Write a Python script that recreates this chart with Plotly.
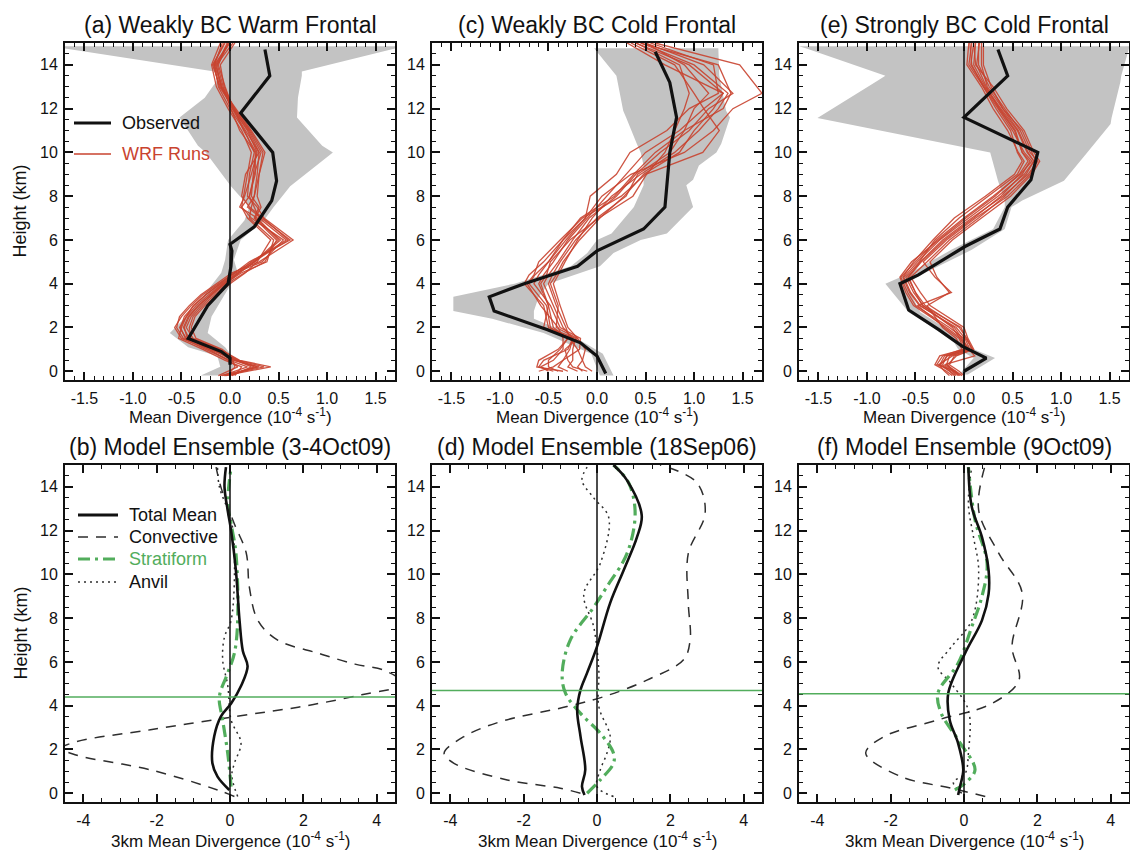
import plotly.graph_objects as go

W, H = 1130, 850
FONT = "Liberation Sans, Arial, Helvetica, sans-serif"
INK = "#111111"
RED = "#c9432f"
GREEN = "#52ad5c"
SHADE = "#c3c3c3"
DASHGRAY = "#2e2e2e"

# ---------------- tick labels ----------------
top_xticks = [-1.5, -1.0, -0.5, 0.0, 0.5, 1.0, 1.5]
top_xlabels = ["-1.5", "-1.0", "-0.5", "0.0", "0.5", "1.0", "1.5"]
bot_xticks = [-4, -2, 0, 2, 4]
bot_xlabels = ["-4", "-2", "0", "2", "4"]
yticks = [0, 2, 4, 6, 8, 10, 12, 14]
ylabels = ["0", "2", "4", "6", "8", "10", "12", "14"]

titles = ["(a) Weakly BC Warm Frontal", "(c) Weakly BC Cold Frontal",
          "(e) Strongly BC Cold Frontal", "(b) Model Ensemble (3-4Oct09)",
          "(d) Model Ensemble (18Sep06)", "(f) Model Ensemble (9Oct09)"]

# ---------------- (a) weakly baroclinic warm frontal ----------------
obs_a_h = [0.3, 0.6, 0.9, 1.5, 3.0, 4.0, 4.8, 5.5, 5.8, 6.6, 7.8, 8.7, 10.0, 11.8, 13.5, 14.7]
obs_a = [0.0, 0.0, -0.09, -0.43, -0.23, -0.02, 0.01, 0.02, 0.00, 0.25, 0.43, 0.48, 0.44, 0.11, 0.41, 0.36]
band_a_h = [-0.2, 0.2, 0.7, 1.1, 1.75, 2.5, 3.3, 4.5, 5.1, 6.0, 6.9, 7.5, 8.45, 10.0, 10.3, 11.6, 12.5, 13.5, 13.7, 14.75, 14.85]
band_a_lo = [-0.30, -0.10, -0.13, -0.43, -0.62, -0.45, -0.30, -0.09, -0.05, -0.02, 0.15, 0.20, 0.01, -0.25, -0.33, -0.52, -0.26, -0.10, -0.16, -1.70, -1.70]
band_a_hi = [-0.02, 0.04, 0.02, -0.05, -0.23, -0.19, -0.08, 0.08, 0.04, 0.11, 0.35, 0.45, 0.62, 1.06, 0.95, 0.69, 0.70, 0.74, 0.74, 1.70, 1.70]
wrf_a_h = [-0.2, 0.2, 0.5, 1.0, 1.5, 2.0, 2.5, 3.0, 3.5, 4.0, 4.5, 5.0, 6.0, 7.0, 7.5, 8.0, 9.0, 10.0, 11.0, 12.0, 13.0, 14.0, 15.0]
wrf_a_runs = [
    [-0.05, 0.42, 0.10, -0.10, -0.38, -0.45, -0.40, -0.30, -0.18, -0.05, 0.10, 0.25, 0.50, 0.28, 0.10, 0.15, 0.22, 0.28, 0.18, 0.03, -0.05, -0.12, -0.02],
    [-0.10, 0.30, 0.05, -0.15, -0.45, -0.52, -0.45, -0.35, -0.22, -0.08, 0.08, 0.22, 0.58, 0.30, 0.25, 0.20, 0.25, 0.32, 0.20, 0.05, -0.08, -0.15, 0.00],
    [0.00, 0.25, 0.08, -0.20, -0.50, -0.57, -0.50, -0.40, -0.28, -0.12, 0.05, 0.20, 0.62, 0.32, 0.18, 0.25, 0.30, 0.36, 0.22, 0.06, -0.10, -0.18, -0.05],
    [-0.08, 0.18, 0.00, -0.25, -0.48, -0.55, -0.52, -0.42, -0.30, -0.14, 0.02, 0.30, 0.65, 0.35, 0.28, 0.18, 0.20, 0.25, 0.15, 0.00, -0.12, -0.16, -0.08],
    [0.05, 0.12, -0.05, -0.28, -0.53, -0.50, -0.45, -0.38, -0.25, -0.10, 0.06, 0.33, 0.55, 0.22, 0.12, 0.14, 0.18, 0.22, 0.12, -0.02, -0.14, -0.19, -0.10],
    [-0.12, 0.08, -0.02, -0.22, -0.42, -0.48, -0.43, -0.33, -0.20, -0.06, 0.12, 0.38, 0.45, 0.20, 0.22, 0.25, 0.28, 0.30, 0.16, 0.02, -0.09, -0.14, 0.03],
    [-0.03, 0.05, 0.03, -0.18, -0.40, -0.42, -0.38, -0.28, -0.15, -0.03, 0.15, 0.36, 0.48, 0.25, 0.30, 0.22, 0.24, 0.27, 0.14, 0.04, -0.06, -0.10, 0.05],
    [0.02, 0.22, 0.06, -0.08, -0.35, -0.40, -0.36, -0.26, -0.13, 0.00, 0.16, 0.28, 0.42, 0.18, 0.12, 0.20, 0.26, 0.26, 0.10, 0.01, -0.07, -0.13, -0.03],
    [-0.06, 0.35, 0.09, -0.12, -0.44, -0.47, -0.42, -0.32, -0.20, -0.07, 0.09, 0.26, 0.52, 0.26, 0.32, 0.28, 0.30, 0.34, 0.21, 0.04, -0.11, -0.17, -0.06],
    [-0.04, 0.28, 0.04, -0.16, -0.46, -0.51, -0.47, -0.37, -0.25, -0.10, 0.04, 0.24, 0.60, 0.34, 0.20, 0.12, 0.16, 0.30, 0.19, 0.03, -0.09, -0.16, -0.01],
]

# ---------------- (c) weakly baroclinic cold frontal ----------------
obs_c_h = [-0.1, 0.7, 1.3, 1.9, 2.75, 3.4, 4.0, 4.8, 5.5, 6.5, 7.5, 10.0, 11.6, 13.2, 14.6]
obs_c = [0.09, 0.0, -0.17, -0.51, -1.06, -1.11, -0.75, -0.20, 0.0, 0.48, 0.70, 0.75, 0.82, 0.75, 0.60]
band_c_h = [-0.2, 0.8, 1.75, 2.4, 2.75, 3.4, 4.0, 4.8, 5.4, 6.0, 6.3, 7.5, 8.5, 8.75, 9.4, 10.0, 10.4, 11.6, 11.9, 13.5, 14.76]
band_c_lo = [0.03, -0.06, -0.55, -1.08, -1.48, -1.48, -0.85, -0.27, -0.10, 0.00, 0.15, 0.38, 0.48, 0.48, 0.48, 0.45, 0.41, 0.30, 0.27, 0.20, -0.03]
band_c_hi = [0.17, 0.06, -0.30, -0.65, -0.65, -0.60, -0.50, 0.03, 0.17, 0.45, 0.72, 0.99, 0.92, 0.99, 1.05, 1.23, 1.28, 1.37, 1.33, 1.26, 1.25]
wrf_c_h = [0.0, 0.2, 0.5, 1.0, 1.5, 2.0, 3.0, 4.0, 4.4, 5.0, 6.0, 7.0, 8.0, 9.0, 10.0, 11.0, 12.0, 12.7, 14.0, 15.0]
wrf_c_runs = [
    [-0.05, -0.12, -0.15, -0.12, -0.20, -0.30, -0.38, -0.45, -0.40, -0.33, -0.20, -0.05, 0.15, 0.45, 0.80, 1.05, 1.25, 1.35, 1.00, 0.45],
    [-0.45, -0.60, -0.55, -0.30, -0.25, -0.35, -0.45, -0.55, -0.50, -0.40, -0.25, -0.08, 0.20, 0.40, 0.65, 0.95, 1.15, 1.40, 1.10, 0.50],
    [-0.35, -0.62, -0.60, -0.40, -0.30, -0.45, -0.50, -0.60, -0.55, -0.45, -0.30, -0.10, 0.10, 0.30, 0.50, 0.85, 1.10, 1.30, 0.95, 0.40],
    [-0.20, -0.30, -0.25, -0.25, -0.22, -0.50, -0.55, -0.75, -0.70, -0.55, -0.35, -0.12, 0.05, 0.35, 0.90, 1.20, 1.40, 1.70, 1.47, 0.60],
    [-0.50, -0.58, -0.45, -0.35, -0.35, -0.40, -0.58, -0.72, -0.65, -0.60, -0.38, -0.15, 0.25, 0.50, 1.09, 1.26, 1.10, 1.00, 0.80, 0.35],
    [-0.15, -0.20, -0.15, -0.20, -0.28, -0.32, -0.42, -0.50, -0.46, -0.38, -0.22, 0.00, 0.30, 0.42, 0.75, 0.90, 1.00, 1.15, 0.90, 0.50],
    [-0.30, -0.40, -0.35, -0.18, -0.17, -0.38, -0.48, -0.65, -0.60, -0.50, -0.32, -0.12, -0.07, 0.20, 0.34, 0.72, 0.95, 1.25, 1.20, 0.55],
    [-0.60, -0.45, -0.35, -0.28, -0.25, -0.55, -0.50, -0.58, -0.52, -0.48, -0.28, 0.02, 0.37, 0.51, 0.70, 0.80, 0.90, 0.95, 0.85, 0.40],
    [-0.10, -0.25, -0.30, -0.33, -0.20, -0.42, -0.40, -0.48, -0.42, -0.35, -0.18, 0.03, 0.28, 0.48, 0.85, 1.00, 1.20, 1.30, 0.70, 0.31],
    [-0.40, -0.50, -0.50, -0.38, -0.30, -0.48, -0.52, -0.70, -0.64, -0.50, -0.35, -0.17, 0.18, 0.38, 0.60, 0.90, 1.30, 1.38, 1.25, 0.45],
]

# ---------------- (e) strongly baroclinic cold frontal ----------------
obs_e_h = [0.0, 0.6, 1.15, 1.9, 2.8, 4.0, 4.4, 5.7, 6.5, 7.5, 8.75, 10.0, 11.6, 13.5, 14.7]
obs_e = [0.0, 0.23, -0.02, -0.26, -0.57, -0.66, -0.47, 0.01, 0.37, 0.45, 0.69, 0.76, 0.0, 0.45, 0.35]
band_e_h = [-0.15, 0.6, 1.0, 1.3, 2.0, 2.7, 4.0, 4.5, 5.55, 6.5, 7.5, 7.8, 8.7, 10.0, 11.3, 11.57, 13.2, 13.5, 14.76, 14.85]
band_e_lo = [-0.05, 0.10, -0.06, -0.10, -0.32, -0.57, -0.81, -0.55, -0.13, 0.30, 0.42, 0.42, 0.35, 0.27, -1.20, -1.51, -0.92, -0.81, -1.63, -1.70]
band_e_hi = [0.04, 0.32, 0.10, 0.01, -0.20, -0.45, -0.60, -0.40, 0.08, 0.42, 0.49, 0.60, 1.03, 1.27, 1.51, 1.52, 1.61, 1.62, 1.70, 1.70]
wrf_e_h = [-0.2, 0.0, 0.3, 0.7, 1.0, 1.5, 2.0, 3.0, 3.6, 4.3, 5.0, 6.0, 7.0, 8.0, 9.0, 9.6, 10.0, 11.0, 12.0, 13.0, 14.0, 15.0]
wrf_e_runs = [
    [-0.05, -0.10, -0.20, 0.11, 0.05, -0.02, -0.10, -0.45, -0.55, -0.62, -0.48, -0.25, 0.05, 0.35, 0.62, 0.72, 0.65, 0.55, 0.38, 0.22, 0.10, 0.12],
    [-0.10, -0.15, -0.25, -0.20, 0.02, 0.00, -0.15, -0.50, -0.58, -0.65, -0.50, -0.28, 0.00, 0.30, 0.58, 0.70, 0.62, 0.50, 0.35, 0.20, 0.05, 0.08],
    [-0.02, -0.08, -0.18, -0.15, 0.08, 0.03, -0.05, -0.40, -0.50, -0.58, -0.45, -0.22, 0.08, 0.40, 0.66, 0.76, 0.68, 0.58, 0.42, 0.26, 0.15, 0.15],
    [-0.12, -0.18, -0.30, -0.25, 0.00, -0.05, -0.20, -0.48, -0.13, -0.30, -0.42, -0.18, 0.12, 0.45, 0.68, 0.74, 0.70, 0.60, 0.40, 0.24, 0.18, 0.18],
    [0.00, -0.05, -0.15, -0.10, 0.10, 0.04, 0.00, -0.35, -0.45, -0.55, -0.38, -0.15, 0.15, 0.42, 0.64, 0.72, 0.66, 0.56, 0.40, 0.28, 0.20, 0.20],
    [-0.08, -0.12, -0.22, -0.18, 0.03, -0.04, -0.12, -0.42, -0.52, -0.60, -0.46, -0.30, -0.05, 0.25, 0.55, 0.62, 0.56, 0.45, 0.30, 0.18, 0.03, 0.05],
    [-0.04, -0.09, -0.28, -0.22, -0.02, -0.08, -0.22, -0.38, -0.15, -0.28, -0.35, -0.12, 0.18, 0.48, 0.70, 0.78, 0.72, 0.62, 0.44, 0.30, 0.12, 0.10],
    [-0.15, -0.20, -0.26, -0.12, 0.06, 0.01, -0.08, -0.46, -0.56, -0.63, -0.52, -0.32, -0.10, 0.22, 0.52, 0.60, 0.55, 0.48, 0.33, 0.20, 0.08, 0.06],
    [-0.06, -0.11, -0.17, -0.08, 0.09, 0.02, -0.03, -0.43, -0.50, -0.57, -0.44, -0.20, 0.10, 0.38, 0.60, 0.68, 0.60, 0.52, 0.36, 0.23, 0.13, 0.16],
    [-0.09, -0.14, -0.24, -0.17, 0.04, -0.03, -0.18, -0.52, -0.60, -0.66, -0.54, -0.26, 0.02, 0.32, 0.57, 0.66, 0.60, 0.53, 0.37, 0.21, 0.07, 0.10],
]

# ---------------- (b) model ensemble 3-4 Oct 2009 ----------------
tot_b_h = [0.15, 0.76, 1.37, 2.6, 3.5, 4.1, 4.9, 5.8, 6.5, 7.9, 10.2, 12.0, 12.9, 14.0, 14.9]
tot_b = [-0.02, -0.34, -0.48, -0.43, -0.25, 0.03, 0.30, 0.48, 0.35, 0.26, 0.16, 0.03, -0.06, -0.15, -0.11]
conv_b_h = [-0.15, 0.15, 1.07, 1.75, 2.05, 2.35, 2.9, 3.5, 3.96, 4.5, 5.0, 5.6, 5.9, 6.4, 7.0, 7.9, 9.4, 11.0, 12.3, 14.0, 14.9]
conv_b = [0.12, -0.34, -2.17, -4.2, -4.6, -4.2, -2.17, 0.12, 1.95, 3.59, 4.75, 4.23, 3.41, 2.4, 1.3, 0.76, 0.53, 0.44, 0.12, -0.25, -0.38]
strat_b_h = [0.3, 1.8, 3.35, 4.4, 5.5, 6.4, 7.9, 11.0, 12.3, 13.2, 14.9]
strat_b = [0.03, -0.06, -0.20, -0.29, -0.06, 0.12, 0.21, 0.16, 0.03, -0.06, 0.03]
anvil_b_h = [-0.15, 0.8, 1.37, 2.3, 3.35, 4.9, 6.1, 7.15, 7.9, 11.0, 12.5, 14.0, 14.9]
anvil_b = [0.21, 0.05, 0.12, 0.30, 0.03, -0.06, -0.20, -0.15, 0.03, 0.12, 0.03, -0.29, -0.34]
melt_b = 4.4

# ---------------- (d) model ensemble 18 Sep 2006 ----------------
tot_d_h = [-0.08, 0.3, 1.07, 2.6, 3.8, 4.72, 5.5, 6.7, 8.7, 10.2, 11.7, 12.7, 14.3, 15.0]
tot_d = [-0.34, -0.41, -0.32, -0.45, -0.54, -0.45, -0.27, 0.0, 0.36, 0.73, 1.09, 1.22, 0.82, 0.45]
conv_d_h = [0.0, 0.23, 0.61, 1.37, 1.83, 2.59, 3.27, 3.96, 4.41, 5.17, 6.1, 7.0, 8.7, 10.96, 12.8, 14.2, 15.0]
conv_d = [-0.45, -1.0, -2.45, -3.9, -4.17, -3.63, -2.63, -0.82, 0.18, 1.36, 2.36, 2.54, 2.49, 2.49, 2.95, 2.72, 1.72]
strat_d_h = [0.0, 0.61, 1.37, 1.83, 2.74, 3.65, 4.57, 5.48, 7.0, 8.5, 9.44, 10.96, 12.8, 14.2, 15.0]
strat_d = [-0.27, 0.09, 0.45, 0.45, 0.09, -0.45, -0.86, -0.95, -0.73, -0.09, 0.27, 0.82, 1.04, 0.86, 0.45]
anvil_d_h = [-0.15, 0.3, 1.07, 1.83, 2.6, 3.96, 5.6, 7.6, 9.1, 10.5, 12.6, 13.5, 14.3, 14.9]
anvil_d = [0.45, 0.0, 0.09, 0.27, 0.36, 0.05, 0.05, -0.09, -0.36, 0.09, 0.32, -0.09, -0.41, -0.27]
melt_d = 4.7

# ---------------- (f) model ensemble 9 Oct 2009 ----------------
tot_f_h = [-0.08, 0.3, 1.07, 2.28, 3.35, 4.57, 6.4, 7.9, 9.1, 10.2, 11.7, 13.1, 14.9]
tot_f = [-0.16, -0.11, -0.02, -0.16, -0.39, -0.43, 0.03, 0.49, 0.67, 0.67, 0.49, 0.21, 0.12]
conv_f_h = [-0.15, 0.23, 0.76, 1.83, 2.59, 3.35, 4.1, 5.17, 6.7, 9.13, 10.96, 12.94, 15.0]
conv_f = [0.58, -0.34, -1.72, -2.68, -2.18, -0.71, 0.76, 1.50, 1.31, 1.59, 0.95, 0.40, 0.58]
strat_f_h = [0.15, 0.46, 1.07, 2.44, 3.65, 4.57, 5.94, 7.6, 9.0, 10.5, 12.5, 14.9]
strat_f = [-0.25, 0.03, 0.30, -0.16, -0.62, -0.71, -0.16, 0.21, 0.49, 0.63, 0.30, 0.12]
anvil_f_h = [0.0, 0.5, 0.9, 1.83, 3.8, 5.0, 5.78, 6.7, 7.9, 10.2, 11.7, 13.2, 14.9]
anvil_f = [-0.06, -0.29, 0.03, 0.12, 0.12, -0.34, -0.71, -0.34, 0.21, 0.40, 0.26, 0.12, 0.21]
melt_f = 4.55

# ---------------- layout geometry (pixels) ----------------
col_px = [(65, 395), (432, 762), (799, 1129)]
row_px = [(43, 380), (465, 802)]
Y_RANGE = [-0.4, 15.0]
TOP_XRANGE = [-1.7, 1.7]
BOT_XRANGE = [-4.5, 4.5]


def px_x(p):
    return p / W


def px_y(p):
    return 1 - p / H


fig = go.Figure()


def axis_names(k):
    s = "" if k == 0 else str(k + 1)
    return "x" + s, "y" + s, "xaxis" + s, "yaxis" + s


def add_top(k, obs_h, obs, band_h, lo, hi, wrf_h, runs):
    xa, ya, _, _ = axis_names(k)
    fig.add_trace(go.Scatter(x=lo + hi[::-1], y=band_h + band_h[::-1], fill="toself",
                             fillcolor=SHADE, line=dict(width=0), mode="lines",
                             hoverinfo="skip", showlegend=False, xaxis=xa, yaxis=ya))
    for run in runs:
        fig.add_trace(go.Scatter(x=run, y=wrf_h, mode="lines",
                                 line=dict(color=RED, width=1.3), opacity=0.9,
                                 showlegend=False, xaxis=xa, yaxis=ya))
    fig.add_trace(go.Scatter(x=obs, y=obs_h, mode="lines",
                             line=dict(color=INK, width=3.2),
                             showlegend=False, xaxis=xa, yaxis=ya))


def add_bottom(k, tot_h, tot, conv_h, conv, strat_h, strat, anv_h, anv):
    xa, ya, _, _ = axis_names(k)
    common = dict(mode="lines", showlegend=False, xaxis=xa, yaxis=ya)
    fig.add_trace(go.Scatter(x=anv, y=anv_h, line=dict(color=DASHGRAY, width=1.5, dash="2px,4px",
                                                     shape="spline", smoothing=1.0), **common))
    fig.add_trace(go.Scatter(x=conv, y=conv_h, line=dict(color=DASHGRAY, width=1.5, dash="10px,8px",
                                                       shape="spline", smoothing=1.0), **common))
    fig.add_trace(go.Scatter(x=strat, y=strat_h, line=dict(color=GREEN, width=3.2, dash="12px,5px,3px,5px",
                                                         shape="spline", smoothing=1.0), **common))
    fig.add_trace(go.Scatter(x=tot, y=tot_h, line=dict(color=INK, width=2.6,
                                                     shape="spline", smoothing=1.0), **common))


add_top(0, obs_a_h, obs_a, band_a_h, band_a_lo, band_a_hi, wrf_a_h, wrf_a_runs)
add_top(1, obs_c_h, obs_c, band_c_h, band_c_lo, band_c_hi, wrf_c_h, wrf_c_runs)
add_top(2, obs_e_h, obs_e, band_e_h, band_e_lo, band_e_hi, wrf_e_h, wrf_e_runs)
add_bottom(3, tot_b_h, tot_b, conv_b_h, conv_b, strat_b_h, strat_b, anvil_b_h, anvil_b)
add_bottom(4, tot_d_h, tot_d, conv_d_h, conv_d, strat_d_h, strat_d, anvil_d_h, anvil_d)
add_bottom(5, tot_f_h, tot_f, conv_f_h, conv_f, strat_f_h, strat_f, anvil_f_h, anvil_f)

tickfont = dict(family=FONT, size=16, color=INK)
layout = dict(width=W, height=H, margin=dict(l=0, r=0, t=0, b=0),
              paper_bgcolor="white", plot_bgcolor="white", showlegend=False,
              font=dict(family=FONT, color=INK))
shapes = []
annotations = []

for k in range(6):
    row, col = divmod(k, 3)
    xa, ya, xkey, ykey = axis_names(k)
    x0, x1 = col_px[col]
    y0, y1 = row_px[row]
    top = row == 0
    layout[xkey] = dict(
        domain=[px_x(x0), px_x(x1)], anchor=ya,
        range=TOP_XRANGE if top else BOT_XRANGE,
        tickmode="array",
        tickvals=top_xticks if top else bot_xticks,
        ticktext=top_xlabels if top else bot_xlabels,
        ticks="inside", ticklen=8, tickwidth=1.5, tickcolor=INK,
        minor=dict(tick0=0, dtick=0.1 if top else 0.5, ticks="inside", ticklen=4,
                   tickwidth=1.2, tickcolor=INK, showgrid=False),
        showline=True, linewidth=2, linecolor=INK, mirror="ticks",
        showgrid=False, zeroline=False, tickfont=tickfont, ticklabelstandoff=3)
    layout[ykey] = dict(
        domain=[px_y(y1), px_y(y0)], anchor=xa, range=Y_RANGE,
        tickmode="array", tickvals=yticks, ticktext=ylabels,
        ticks="inside", ticklen=8, tickwidth=1.5, tickcolor=INK,
        minor=dict(tick0=0, dtick=0.5, ticks="inside", ticklen=4,
                   tickwidth=1.2, tickcolor=INK, showgrid=False),
        showline=True, linewidth=2, linecolor=INK, mirror="ticks",
        showgrid=False, zeroline=False, tickfont=tickfont, ticklabelstandoff=2)

    # zero-divergence reference line
    shapes.append(dict(type="line", xref=xa, yref=ya + " domain", x0=0, x1=0, y0=0, y1=1,
                       line=dict(color=INK, width=1.5), layer="above"))

    # panel title
    annotations.append(dict(text=titles[k], xref="paper", yref="paper",
                            x=px_x((x0 + x1) / 2), y=px_y(25 if top else 447),
                            xanchor="center", yanchor="middle", showarrow=False,
                            font=dict(family=FONT, size=23, color=INK)))
    # x-axis title
    xtitle = ("Mean Divergence (10<sup>-4</sup> s<sup>-1</sup>)" if top
              else "3km Mean Divergence (10<sup>-4</sup> s<sup>-1</sup>)")
    annotations.append(dict(text=xtitle, xref="paper", yref="paper",
                            x=px_x((x0 + x1) / 2), y=px_y(416 if top else 840),
                            xanchor="center", yanchor="middle", showarrow=False,
                            font=dict(family=FONT, size=17, color=INK)))
    if col == 0:
        annotations.append(dict(text="Height (km)", xref="paper", yref="paper",
                                x=px_x(20), y=px_y((y0 + y1) / 2), textangle=-90,
                                xanchor="center", yanchor="middle", showarrow=False,
                                font=dict(family=FONT, size=18, color=INK)))

# melting-level lines in the ensemble panels
for k, lvl in zip([3, 4, 5], [melt_b, melt_d, melt_f]):
    xa, ya, _, _ = axis_names(k)
    shapes.append(dict(type="line", xref=xa + " domain", yref=ya, x0=0, x1=1, y0=lvl, y1=lvl,
                       line=dict(color=GREEN, width=1.5), layer="above"))

# legend for panel (a)
legend_a = [("Observed", INK, 3.2, "solid", INK, 123),
            ("WRF Runs", RED, 1.3, "solid", RED, 154)]
# legend for panel (b)
legend_b = [("Total Mean", INK, 3.2, "solid", INK, 515),
            ("Convective", DASHGRAY, 1.5, "10px,8px", INK, 537),
            ("Stratiform", GREEN, 3.2, "12px,5px,3px,5px", GREEN, 559),
            ("Anvil", DASHGRAY, 1.5, "2px,4px", INK, 582)]
for entries, lx0, lx1, tx in [(legend_a, 74, 111, 120), (legend_b, 78, 118, 127)]:
    for label, lcol, lw, dash, tcol, ypix in entries:
        shapes.append(dict(type="line", xref="paper", yref="paper",
                           x0=px_x(lx0), x1=px_x(lx1), y0=px_y(ypix), y1=px_y(ypix),
                           line=dict(color=lcol, width=lw, dash=dash)))
        annotations.append(dict(text=label, xref="paper", yref="paper",
                                x=px_x(tx), y=px_y(ypix), xanchor="left", yanchor="middle",
                                showarrow=False, font=dict(family=FONT, size=18, color=tcol)))

layout["shapes"] = shapes
layout["annotations"] = annotations
fig.update_layout(**layout)

fig.write_html("out.html")
